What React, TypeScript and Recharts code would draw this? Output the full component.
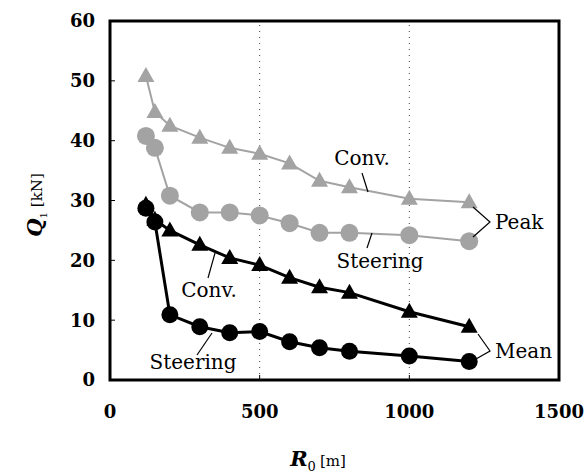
import React from 'react';
import { LineChart, Line, XAxis, YAxis, ReferenceLine, ReferenceArea } from 'recharts';

// curve radius R0 [m]
const radius = [120, 150, 200, 300, 400, 500, 600, 700, 800, 1000, 1200];
// Q1 [kN]
const peakConv = [50.8, 44.8, 42.5, 40.5, 38.8, 37.8, 36.2, 33.3, 32.2, 30.3, 29.7];
const peakSteering = [40.8, 38.8, 30.8, 28.0, 28.0, 27.5, 26.2, 24.6, 24.6, 24.2, 23.2];
const meanConv = [29.3, 26.8, 25.0, 22.6, 20.4, 19.2, 17.1, 15.5, 14.6, 11.4, 8.9];
const meanSteering = [28.7, 26.4, 10.9, 8.9, 7.9, 8.1, 6.4, 5.4, 4.8, 4.0, 3.1];

const xTicks = [0, 500, 1000, 1500];
const yTicks = [0, 10, 20, 30, 40, 50, 60];

const data = radius.map((r, i) => ({
  r,
  peakConv: peakConv[i],
  peakSteering: peakSteering[i],
  meanConv: meanConv[i],
  meanSteering: meanSteering[i],
}));

const GRAY = '#a3a3a3';
const serif = '"DejaVu Serif", serif';

const Triangle = (props: any) => {
  const { cx, cy, fill } = props;
  if (cx == null || cy == null) return null;
  return <path d={`M${cx},${cy - 9} L${cx + 8.5},${cy + 6} L${cx - 8.5},${cy + 6} Z`} fill={fill} />;
};

const Dot = (props: any) => {
  const { cx, cy, fill, r } = props;
  if (cx == null || cy == null) return null;
  return <circle cx={cx} cy={cy} r={r} fill={fill} />;
};

const tickStyle = { fill: '#000', fontFamily: serif, fontWeight: 'bold', fontSize: 18 };

function Annotations() {
  const t = { fontFamily: serif, fontSize: 20, fill: '#000' };
  const ln = { stroke: '#000', strokeWidth: 1.2, fill: 'none' };
  return (
    <svg width={585} height={473} style={{ position: 'absolute', left: 0, top: 0, pointerEvents: 'none' }}>
      {/* axis titles */}
      <text transform="translate(42,205) rotate(-90)" textAnchor="middle" fontFamily={serif} fill="#000">
        <tspan fontSize={21} fontStyle="italic" fontWeight="bold">Q</tspan>
        <tspan fontSize={10} dy={5}>1</tspan>
        <tspan fontSize={15} dy={-5} dx={5}>[kN]</tspan>
      </text>
      <text x={318} y={466} textAnchor="middle" fontFamily={serif} fill="#000">
        <tspan fontSize={21} fontStyle="italic" fontWeight="bold">R</tspan>
        <tspan fontSize={13} dy={5}>0</tspan>
        <tspan fontSize={15} dy={-5} dx={4}>[m]</tspan>
      </text>

      <text {...t} x={362} y={165} textAnchor="middle">Conv.</text>
      <polyline {...ln} points="362,173 368,192" />
      <text {...t} x={380} y={268} textAnchor="middle">Steering</text>
      <polyline {...ln} points="372,233 367,248" />
      <text {...t} x={209} y={297} textAnchor="middle">Conv.</text>
      <polyline {...ln} points="215,253 208,278" />
      <text {...t} x={193} y={369} textAnchor="middle">Steering</text>
      <polyline {...ln} points="212,333 197,355" />

      <text {...t} x={495} y={229}>Peak</text>
      <polyline {...ln} points="473,207 490,222 473,237" />
      <text {...t} x={495} y={358}>Mean</text>
      <polyline {...ln} points="478,334 490,351 476,359" />
    </svg>
  );
}

export default function App() {
  return (
    <div style={{ position: 'absolute', left: 0, top: 0, width: 585, height: 473, background: '#fff' }}>
      <LineChart width={585} height={473} data={data} margin={{ top: 21, right: 26, bottom: 0, left: 0 }}>
        <XAxis
          dataKey="r"
          type="number"
          domain={[0, 1500]}
          ticks={xTicks}
          height={93}
          axisLine={false}
          tickSize={-5}
          tickMargin={30}
          tickLine={{ stroke: '#000' }}
          tick={tickStyle}
        />
        <YAxis
          type="number"
          domain={[0, 60]}
          ticks={yTicks}
          width={110}
          axisLine={false}
          tickSize={-5}
          tickMargin={20}
          tickLine={{ stroke: '#000' }}
          tick={tickStyle}
        />
        <ReferenceLine x={500} stroke="#444" strokeDasharray="1 5" />
        <ReferenceLine x={1000} stroke="#444" strokeDasharray="1 5" />
        <ReferenceArea x1={0} x2={1500} y1={0} y2={60} fill="none" fillOpacity={0} stroke="#000" strokeWidth={3} />
        <Line
          dataKey="peakConv"
          stroke={GRAY}
          strokeWidth={2}
          isAnimationActive={false}
          dot={(p: any) => <Triangle key={`pc${p.index}`} {...p} fill={GRAY} />}
        />
        <Line
          dataKey="peakSteering"
          stroke={GRAY}
          strokeWidth={2}
          isAnimationActive={false}
          dot={(p: any) => <Dot key={`ps${p.index}`} {...p} r={9} fill={GRAY} />}
        />
        <Line
          dataKey="meanConv"
          stroke="#000"
          strokeWidth={3}
          isAnimationActive={false}
          dot={(p: any) => <Triangle key={`mc${p.index}`} {...p} fill="#000" />}
        />
        <Line
          dataKey="meanSteering"
          stroke="#000"
          strokeWidth={3}
          isAnimationActive={false}
          dot={(p: any) => <Dot key={`ms${p.index}`} {...p} r={8.5} fill="#000" />}
        />
      </LineChart>
      <Annotations />
    </div>
  );
}
